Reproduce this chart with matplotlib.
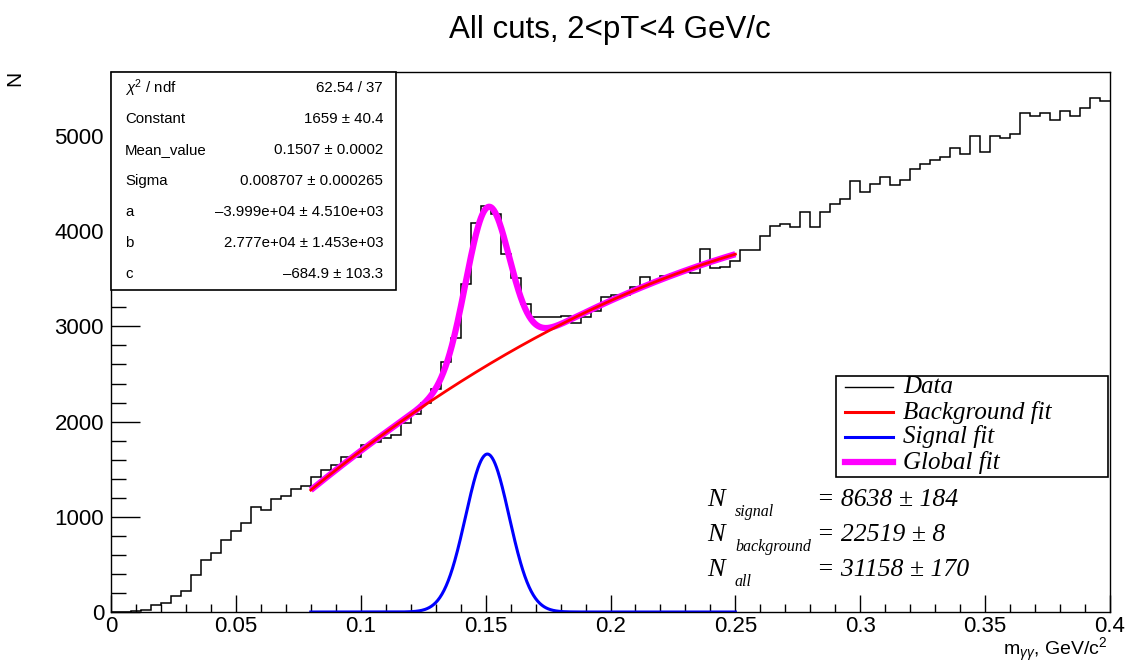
import numpy as np
import matplotlib
matplotlib.use("Agg")
from matplotlib import pyplot as plt
from matplotlib.patches import Rectangle
from matplotlib.lines import Line2D

plt.rcParams['font.family'] = ['Liberation Sans', 'DejaVu Sans']
plt.rcParams['mathtext.fontset'] = 'custom'
plt.rcParams['mathtext.rm'] = 'Liberation Sans'
plt.rcParams['mathtext.it'] = 'Liberation Sans:italic'

# histogram: 100 bins from 0 to 0.4
x_min, x_max, n_bins = 0.0, 0.4, 100
counts = [0, 0, 8, 25, 70, 95, 165, 217, 392, 542,
          623, 752, 850, 934, 1102, 1074, 1186, 1214, 1290, 1325,
          1420, 1490, 1540, 1630, 1630, 1755, 1790, 1830, 1860, 1990,
          2080, 2200, 2340, 2630, 2880, 3440, 4083, 4268, 4177, 3757,
          3505, 3232, 3102, 3102, 3100, 3109, 3040, 3100, 3160, 3305,
          3326, 3330, 3417, 3515, 3465, 3529, 3550, 3575, 3564, 3810,
          3615, 3620, 3690, 3803, 3803, 3950, 4055, 4076, 4048, 4205,
          4041, 4198, 4286, 4335, 4527, 4415, 4492, 4573, 4486, 4538,
          4650, 4702, 4751, 4783, 4877, 4814, 5000, 4835, 5000, 4982,
          5021, 5242, 5213, 5242, 5168, 5263, 5210, 5298, 5396, 5368]

# fit parameters (from the stats box)
fit_range = (0.08, 0.25)
const, mean, sigma = 1659, 0.1507, 0.008707
pa, pb, pc = -3.999e4, 2.777e4, -684.9

stat_names = ["$\\chi^2$ / ndf", "Constant", "Mean_value", "Sigma", "a", "b", "c"]
stat_values = ["62.54 / 37", "1659 ± 40.4", "0.1507 ± 0.0002",
               "0.008707 ± 0.000265", "–3.999e+04 ± 4.510e+03",
               "2.777e+04 ± 1.453e+03", "–684.9 ± 103.3"]

leg_labels = ["Data", "Background fit", "Signal fit", "Global fit"]
leg_colors = ["black", "red", "blue", "magenta"]
leg_widths = [1.0, 2.2, 2.2, 4.5]

n_names = ["signal", "background", "all"]
n_values = ["= 8638 ± 184", "= 22519 ± 8", "= 31158 ± 170"]

W, H = 1128, 664
fig = plt.figure(figsize=(W / 100, H / 100), dpi=100)
ax = fig.add_axes([111 / W, 1 - 612 / H, (1110 - 111) / W, (612 - 72) / H])

def px(x, y):
    return x / W, 1 - y / H

edges = np.linspace(x_min, x_max, n_bins + 1)
ax.stairs(counts, edges, baseline=None, color="black", lw=1.1)

xs = np.linspace(fit_range[0], fit_range[1], 600)
bg = pa * xs ** 2 + pb * xs + pc
sig = const * np.exp(-0.5 * ((xs - mean) / sigma) ** 2)
ax.plot(xs, bg + sig, color="magenta", lw=4.5, solid_capstyle="butt")
ax.plot(xs, bg, color="red", lw=2.0)
ax.plot(xs, sig, color="blue", lw=2.2)

ax.set_xlim(x_min, x_max)
ax.set_ylim(0, 5672)
ax.set_xticks(np.arange(0, 0.401, 0.05))
ax.set_xticklabels(["0", "0.05", "0.1", "0.15", "0.2", "0.25", "0.3", "0.35", "0.4"])
ax.set_xticks(np.arange(0, 0.401, 0.01), minor=True)
ax.set_yticks(np.arange(0, 5001, 1000))
ax.set_yticks(np.arange(0, 5601, 200), minor=True)
ax.tick_params(which="both", direction="in", labelsize=16, width=1.0)
ax.tick_params(axis="y", which="major", length=21, pad=5)
ax.tick_params(axis="y", which="minor", length=11)
ax.tick_params(axis="x", which="major", length=12, pad=3)
ax.tick_params(axis="x", which="minor", length=6)
for s in ax.spines.values():
    s.set_linewidth(1.0)

fig.text(*px(610, 30), "All cuts, 2<pT<4 GeV/c", ha="center", va="center", fontsize=22.5)
fig.text(*px(15, 78), "N", ha="center", va="center", rotation=90, fontsize=15)
fig.text(*px(1108, 650), "m$_{\\gamma\\gamma}$, GeV/c$^2$", ha="right", va="center", fontsize=14)

# stats box
fig.patches.append(Rectangle(px(111, 290), (396 - 111) / W, (290 - 72) / H,
                             transform=fig.transFigure, fill=True, fc="white",
                             ec="black", lw=1.2, zorder=5))
for i in range(len(stat_names)):
    y = 88 + i * 31
    fig.text(*px(125, y), stat_names[i], ha="left", va="center", fontsize=10.8, zorder=6)
    fig.text(*px(383, y), stat_values[i], ha="right", va="center", fontsize=10.8, zorder=6)

# legend box
fig.patches.append(Rectangle(px(836, 477), (1108 - 836) / W, (477 - 376) / H,
                             transform=fig.transFigure, fill=True, fc="white",
                             ec="black", lw=1.2, zorder=5))
for i in range(len(leg_labels)):
    y = 387 + i * 25
    x0, y0 = px(845, y)
    x1, _ = px(893, y)
    fig.lines.append(Line2D([x0, x1], [y0, y0], transform=fig.transFigure,
                            color=leg_colors[i], lw=leg_widths[i], zorder=6))
    fig.text(*px(903, y), leg_labels[i], ha="left", va="center", fontsize=18,
             family="Liberation Serif", style="italic", zorder=6)

# yields
for i in range(len(n_names)):
    y = 500 + i * 35
    fig.text(*px(707, y), "N", ha="left", va="center", fontsize=19,
             family="Liberation Serif", style="italic")
    fig.text(*px(735, y + 12), n_names[i], ha="left", va="center", fontsize=11.5,
             family="Liberation Serif", style="italic")
    fig.text(*px(817, y), n_values[i], ha="left", va="center", fontsize=18.5,
             family="Liberation Serif", style="italic")

fig.savefig("out.png", dpi=100)
